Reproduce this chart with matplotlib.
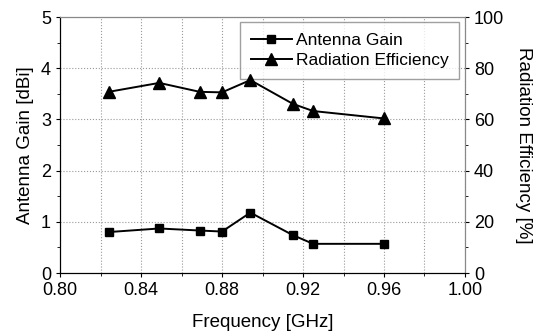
import matplotlib
matplotlib.use("Agg")
import matplotlib.pyplot as plt
from matplotlib.ticker import MultipleLocator

plt.rcParams['font.family'] = ['Liberation Sans', 'DejaVu Sans']

freq = [0.824, 0.849, 0.869, 0.880, 0.894, 0.915, 0.925, 0.960]
gain = [0.80, 0.87, 0.83, 0.81, 1.18, 0.74, 0.57, 0.57]
eff = [70.8, 74.3, 70.8, 70.6, 75.4, 66.1, 63.3, 60.4]

fig = plt.figure(figsize=(5.41, 3.36), dpi=100)
ax = fig.add_axes([0.111, 0.1875, 0.7485, 0.7615])
ax2 = ax.twinx()

l1, = ax.plot(freq, gain, '-s', color='black', lw=1.4, ms=6, label='Antenna Gain')
l2, = ax2.plot(freq, eff, '-^', color='black', lw=1.4, ms=8, label='Radiation Efficiency')

ax.set_xlim(0.80, 1.00)
ax.set_ylim(0, 5)
ax2.set_ylim(0, 100)
ax.xaxis.set_major_locator(MultipleLocator(0.04))
ax.xaxis.set_minor_locator(MultipleLocator(0.02))
ax.yaxis.set_major_locator(MultipleLocator(1))
ax.yaxis.set_minor_locator(MultipleLocator(0.5))
ax2.yaxis.set_major_locator(MultipleLocator(20))
ax2.yaxis.set_minor_locator(MultipleLocator(10))
ax.xaxis.set_major_formatter(matplotlib.ticker.FormatStrFormatter('%.2f'))

ax.grid(True, which='major', color='#999999', ls=':', lw=0.8)
ax.grid(True, which='minor', axis='x', color='#999999', ls=':', lw=0.8)

for a in (ax, ax2):
    a.tick_params(which='both', direction='out', labelsize=13, colors='black')
    a.tick_params(which='major', length=3)
    a.tick_params(which='minor', length=2)
    for s in ('top', 'right'):
        a.spines[s].set_color('#888888')
    a.spines['left'].set_color('black')
    a.spines['bottom'].set_color('black')

ax.set_xlabel('Frequency [GHz]', fontsize=13.5, labelpad=11)
ax.set_ylabel('Antenna Gain [dBi]', fontsize=13.5, labelpad=5)
ax2.set_ylabel('Radiation Efficiency [%]', fontsize=13.5, rotation=-90, labelpad=20)

leg = ax.legend(handles=[l1, l2], loc='upper right', bbox_to_anchor=(0.985, 0.98),
                fontsize=12.5, frameon=True, fancybox=False, edgecolor='#888888',
                handlelength=2.4, handletextpad=0.2, borderaxespad=0, labelspacing=0.3,
                borderpad=0.6)
leg.get_frame().set_linewidth(1.0)

fig.savefig('out.png', dpi=100)
